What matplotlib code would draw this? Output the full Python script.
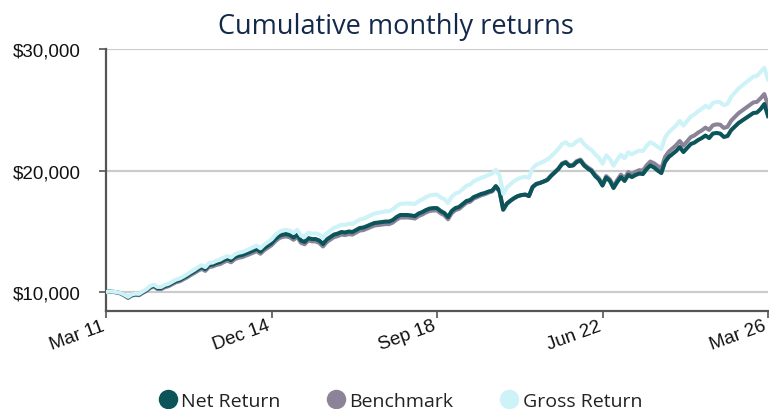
import matplotlib
matplotlib.use("Agg")
import matplotlib.pyplot as plt
import matplotlib.transforms as mtrans
from matplotlib.lines import Line2D
from matplotlib.ticker import FuncFormatter

# Monthly index: 0 = Mar 2011 ... 180 = Mar 2026
months = list(range(181))
tick_positions = [0, 45, 90, 135, 180]
tick_labels = ["Mar 11", "Dec 14", "Sep 18", "Jun 22", "Mar 26"]
y_ticks = [10000, 20000, 30000]
series_names = ["Net Return", "Benchmark", "Gross Return"]

net_return = [
    10000, 10050, 10020, 9980, 9900, 9750, 9560, 9750, 9820, 9790,
    9990, 10160, 10410, 10530, 10330, 10330, 10490, 10580, 10740, 10910,
    10990, 11150, 11320, 11520, 11690, 11890, 12060, 11890, 12220, 12260,
    12390, 12470, 12630, 12760, 12630, 12880, 13000, 13050, 13170, 13290,
    13420, 13540, 13330, 13620, 13830, 14030, 14360, 14610, 14730, 14770,
    14690, 14490, 14730, 14240, 14120, 14440, 14360, 14360, 14240, 13950,
    14320, 14530, 14730, 14810, 14940, 14900, 14980, 14940, 15100, 15270,
    15310, 15430, 15560, 15680, 15720, 15760, 15800, 15800, 15930, 16170,
    16340, 16340, 16340, 16300, 16250, 16460, 16580, 16750, 16870, 16910,
    16910, 16670, 16500, 16170, 16670, 16910, 17000, 17240, 17490, 17570,
    17820, 17940, 18070, 18150, 18270, 18350, 18720, 18310, 16790, 17280,
    17530, 17740, 17900, 17980, 18020, 17900, 18640, 18890, 18970, 19090,
    19220, 19550, 19830, 20120, 20530, 20660, 20370, 20410, 20700, 20820,
    20410, 20160, 19960, 19550, 19260, 18760, 19420, 19140, 18560, 19050,
    19460, 19140, 19630, 19460, 19630, 19750, 19710, 20120, 20410, 20250,
    20000, 19790, 20700, 21110, 21360, 21600, 21930, 21520, 21850, 22180,
    22300, 22510, 22670, 22880, 22670, 23040, 23090, 23040, 22760, 22840,
    23330, 23620, 23910, 24110, 24320, 24530, 24730, 24770, 25060, 25470,
    24480,
]

benchmark = [
    10000, 10040, 10000, 9950, 9870, 9710, 9510, 9700, 9770, 9740,
    9930, 10090, 10330, 10440, 10240, 10240, 10390, 10480, 10640, 10800,
    10880, 11040, 11200, 11390, 11560, 11750, 11910, 11740, 12060, 12100,
    12230, 12300, 12460, 12590, 12450, 12700, 12820, 12870, 12990, 13110,
    13240, 13360, 13150, 13440, 13650, 13850, 14170, 14420, 14540, 14580,
    14500, 14300, 14540, 14050, 13930, 14250, 14170, 14170, 14040, 13750,
    14110, 14320, 14520, 14600, 14730, 14690, 14770, 14730, 14890, 15060,
    15100, 15220, 15350, 15470, 15510, 15550, 15590, 15590, 15720, 15960,
    16130, 16130, 16140, 16100, 16050, 16260, 16380, 16550, 16670, 16710,
    16720, 16480, 16320, 15990, 16490, 16740, 16840, 17090, 17350, 17430,
    17690, 17820, 17960, 18050, 18180, 18280, 18660, 18260, 16760, 17250,
    17510, 17720, 17890, 17980, 18020, 17900, 18650, 18900, 18990, 19110,
    19250, 19580, 19870, 20160, 20580, 20720, 20430, 20480, 20780, 20900,
    20500, 20260, 20060, 19660, 19370, 18860, 19540, 19270, 18700, 19220,
    19660, 19360, 19870, 19710, 19900, 20030, 20000, 20430, 20740, 20600,
    20370, 20180, 21120, 21550, 21820, 22080, 22430, 22040, 22400, 22750,
    22890, 23120, 23300, 23530, 23340, 23720, 23800, 23770, 23500, 23600,
    24110, 24410, 24720, 24940, 25160, 25390, 25600, 25650, 25950, 26290,
    25350,
]

gross_return = [
    10000, 10050, 10030, 9990, 9920, 9780, 9600, 9800, 9870, 9850,
    10050, 10230, 10490, 10610, 10420, 10420, 10590, 10680, 10850, 11020,
    11110, 11270, 11450, 11650, 11830, 12040, 12210, 12050, 12390, 12430,
    12570, 12660, 12830, 12970, 12840, 13100, 13230, 13290, 13410, 13540,
    13680, 13810, 13600, 13900, 14120, 14330, 14680, 14940, 15070, 15120,
    15050, 14860, 15120, 14640, 14530, 14870, 14810, 14830, 14730, 14450,
    14840, 15070, 15290, 15390, 15540, 15520, 15620, 15600, 15780, 15970,
    16030, 16170, 16320, 16460, 16520, 16580, 16640, 16660, 16810, 17070,
    17260, 17280, 17300, 17280, 17250, 17480, 17620, 17810, 17950, 18000,
    18020, 17790, 17640, 17320, 17840, 18100, 18210, 18470, 18740, 18840,
    19110, 19250, 19400, 19500, 19640, 19740, 20050, 19600, 18080, 18610,
    18880, 19130, 19320, 19420, 19490, 19400, 20190, 20480, 20600, 20750,
    20900, 21160, 21460, 21780, 22180, 22330, 22070, 22120, 22400, 22560,
    22170, 21900, 21700, 21340, 21060, 20550, 21240, 20960, 20390, 20890,
    21310, 21000, 21500, 21330, 21510, 21640, 21610, 22030, 22330, 22180,
    21950, 21760, 22700, 23140, 23430, 23700, 24080, 23700, 24070, 24450,
    24620, 24880, 25080, 25330, 25160, 25560, 25650, 25620, 25370, 25500,
    26060, 26420, 26760, 27000, 27240, 27490, 27730, 27790, 28120, 28450,
    27500,
]

c_net = "#0b5459"
c_bench = "#8b8499"
c_gross = "#cdf2f7"

fig = plt.figure(figsize=(7.69, 4.10), dpi=100)
W, H = 769, 410
ax = fig.add_axes([106 / W, 1 - 312 / H, 662 / W, 262 / H])

ax.plot(months, benchmark, color=c_bench, lw=2.9, solid_joinstyle="round", zorder=3)
ax.plot(months, net_return, color=c_net, lw=2.9, solid_joinstyle="round", zorder=4)
ax.plot(months, gross_return, color=c_gross, lw=2.9, solid_joinstyle="round", zorder=5)

ax.set_xlim(0, 180)
ax.set_ylim(8440, 30000)

ax.set_yticks(y_ticks)
ax.yaxis.set_major_formatter(FuncFormatter(lambda v, p: "${:,.0f}".format(v)))
ax.yaxis.grid(True, color="#cccccc", lw=1.6)
ax.set_axisbelow(True)

ax.set_xticks(tick_positions)
ax.set_xticklabels([])
label_tr = mtrans.offset_copy(ax.get_xaxis_transform(), fig=fig,
                              x=-5, y=-6, units="dots")
for pos, lab in zip(tick_positions, tick_labels):
    ax.text(pos, 0, lab, transform=label_tr, rotation=20, ha="right",
            va="top", rotation_mode="anchor", fontsize=13.5,
            family="Liberation Sans", color="#111111", clip_on=False)

for lab in ax.get_yticklabels():
    lab.set_family("Liberation Sans")
    lab.set_fontsize(13.5)
    lab.set_color("#111111")

for s in ["top", "right"]:
    ax.spines[s].set_visible(False)
for s in ["left", "bottom"]:
    ax.spines[s].set_color("#555555")
    ax.spines[s].set_linewidth(1.6)

ax.tick_params(axis="y", length=5, width=1.2, color="#555555", pad=13)
ax.tick_params(axis="x", length=5, width=1.2, color="#555555", pad=4)

fig.text(396 / W, 1 - 27 / H, "Cumulative monthly returns", ha="center",
         va="center", fontsize=19.5, color="#13294b", family="Open Sans")

handles = [Line2D([], [], marker="o", ls="", ms=13, color=c)
           for c in (c_net, c_bench, c_gross)]
leg = fig.legend(handles, series_names, loc="center",
                 bbox_to_anchor=(400 / W, 1 - 402 / H), ncol=3, frameon=False,
                 prop={"family": "Open Sans", "size": 14},
                 handletextpad=0.2, columnspacing=2.35, handlelength=1.0)
for t in leg.get_texts():
    t.set_color("#222222")

fig.savefig("out.png", dpi=100)
